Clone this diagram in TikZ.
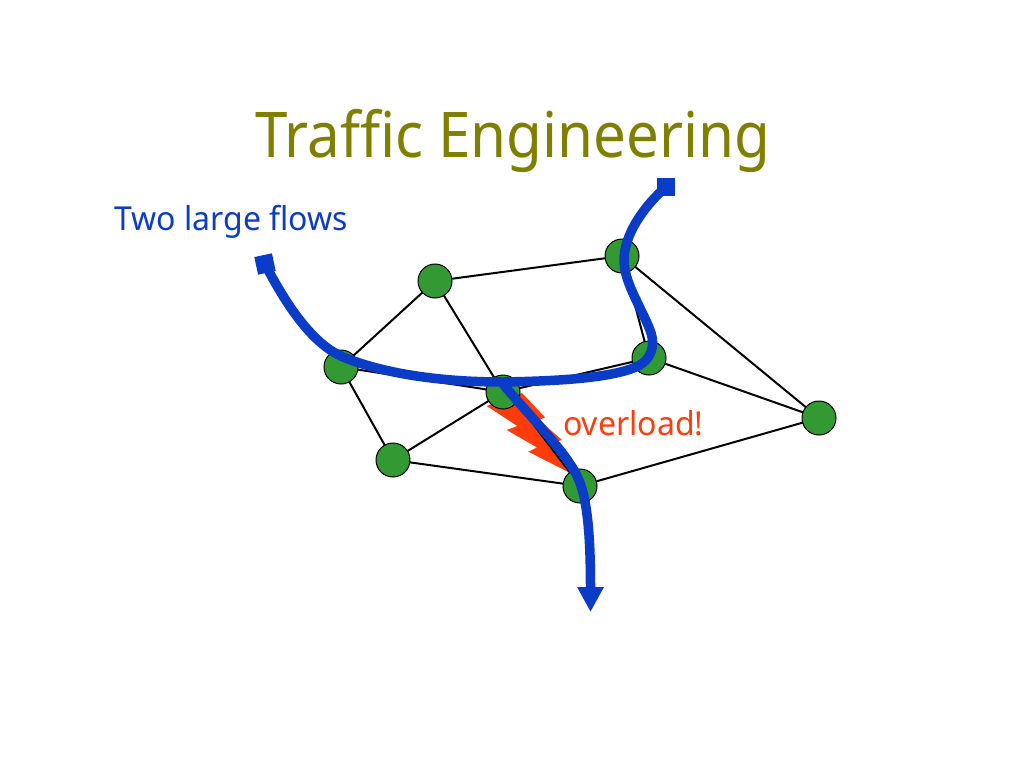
\documentclass[tikz,border=0pt]{standalone}
\usepackage{fontspec}
\setmainfont{Noto Sans}
\newfontfamily\titlefont[FakeStretch=0.925]{Noto Sans}
\newfontfamily\labelfont[FakeStretch=0.97]{Noto Sans}
\usetikzlibrary{arrows.meta}
\definecolor{olivetitle}{HTML}{808000}
\definecolor{flowblue}{HTML}{0A3CC8}
\definecolor{hot}{HTML}{FF3C0A}
\definecolor{router}{HTML}{339933}
\tikzset{
  router/.style={circle,draw=black,line width=1pt,fill=router,minimum size=34pt,inner sep=0pt},
  link/.style={draw=black,line width=2pt},
  flow/.style={draw=flowblue,line width=9.5pt},
  endsq/.style={rectangle,fill=flowblue,minimum size=18pt,inner sep=0pt},
  lbl/.style={inner sep=0pt,anchor=base west}
}
\begin{document}
\begin{tikzpicture}[x=1pt,y=-1pt]
\useasboundingbox[fill=white] (0,0) rectangle (1024,768);
\node[lbl,text=olivetitle,font=\titlefont\fontsize{63}{70}\selectfont] (title) at (255,157) {Traffic Engineering};
\node[lbl,text=flowblue,font=\labelfont\fontsize{33}{38}\selectfont] (two) at (114,230) {Two large flows};
\node[lbl,text=hot,font=\labelfont\fontsize{33}{38}\selectfont] (over) at (563,435) {overload!};
\fill[hot] (522,393) -- (545,417.3) -- (539,420) -- (562,440) -- (548,444) -- (568.3,472)
  -- (528.3,451.7) -- (537,447.5) -- (506.7,430) -- (517.3,426) -- (486.7,406) -- cycle;
\coordinate (pa) at (435,281);
\coordinate (pb) at (622,256);
\coordinate (pc) at (341,367);
\coordinate (pd) at (503,392);
\coordinate (pdh) at (509,392);
\coordinate (pe) at (649,358);
\coordinate (pf) at (819,418);
\coordinate (pg) at (393,460);
\coordinate (ph) at (580,486);
\foreach \u/\v in {pa/pb,pa/pc,pa/pd,pc/pd,pc/pg,pd/pg,pd/pe,pdh/ph,pe/pb,pe/pf,pb/pf,pg/ph,ph/pf}
  \draw[link] (\u) -- (\v);
\foreach \n/\p in {a/pa,b/pb,c/pc,d/pd,e/pe,f/pf,g/pg,h/ph}
  \node[router] (\n) at (\p) {};
\node[endsq,rotate=12] (s1) at (265,264) {};
\node[endsq] (s2) at (666,187) {};
\coordinate (t2) at (590.5,612);
\coordinate (s3) at (503,384);
\draw[flow] (s1.center) .. controls (290,312) and (315,345) .. (343,357)
  .. controls (390,376) and (450,382) .. (503,382)
  .. controls (560,381) and (610,378) .. (636,367)
  .. controls (652,360) and (655,345) .. (651,333)
  .. controls (644,312) and (625,285) .. (624,262)
  .. controls (623,235) and (645,205) .. (s2.center);
\draw[flow,-{Triangle[length=25pt,width=25pt]}] (s3) .. controls (515,399) and (535,420) .. (550,438)
  .. controls (562,452) and (572,465) .. (578,478)
  .. controls (588,500) and (590.5,540) .. (t2);
\end{tikzpicture}
\end{document}
